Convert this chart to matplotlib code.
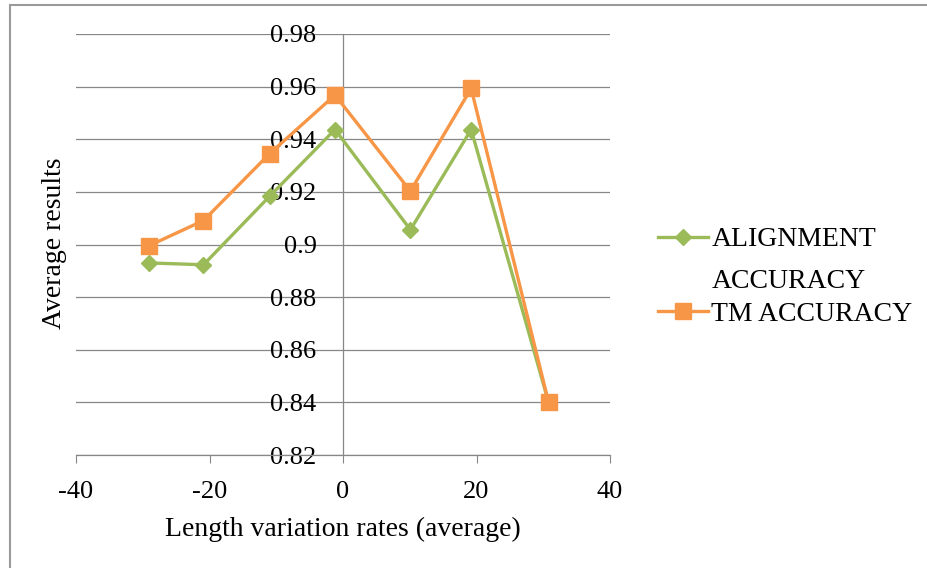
import matplotlib
matplotlib.use("Agg")
import matplotlib.pyplot as plt
from matplotlib.patches import Rectangle
from matplotlib.legend_handler import HandlerLine2D

# --- Données ---
x_valeurs = [-29.1, -20.9, -11.0, -1.2, 10.1, 19.2, 30.8]
alignment_accuracy = [0.893, 0.8923, 0.9183, 0.9437, 0.9056, 0.9437, 0.840]
tm_accuracy = [0.8995, 0.9091, 0.9345, 0.9568, 0.9203, 0.9593, 0.840]

x_ticks = [-40, -20, 0, 20, 40]
y_ticks = [0.82, 0.84, 0.86, 0.88, 0.9, 0.92, 0.94, 0.96, 0.98]
y_labels = ["0.82", "0.84", "0.86", "0.88", "0.9", "0.92", "0.94", "0.96", "0.98"]

vert = "#9BBB59"
orange = "#F79646"
gris = "#878787"


class PoigneeDecalee(HandlerLine2D):
    # remonte la poignée de légende au niveau de la première ligne du texte
    def __init__(self, dy=0, **kw):
        super().__init__(**kw)
        self.dy = dy

    def create_artists(self, legend, orig_handle, xdescent, ydescent,
                       width, height, fontsize, trans):
        return super().create_artists(legend, orig_handle, xdescent,
                                      ydescent - 2 * self.dy, width, height,
                                      fontsize, trans)


plt.rcParams["font.family"] = ["Liberation Serif", "DejaVu Serif"]
plt.rcParams["font.size"] = 19

fig = plt.figure(figsize=(9.28, 5.68), dpi=100)
ax = fig.add_axes([76 / 928, 1 - 455 / 568, 534 / 928, 421 / 568])

ligne_vert, = ax.plot(x_valeurs, alignment_accuracy, color=vert, linewidth=2.4,
                      marker="D", markersize=8, label="ALIGNMENT\nACCURACY", zorder=3)
ligne_orange, = ax.plot(x_valeurs, tm_accuracy, color=orange, linewidth=2.4,
                        marker="s", markersize=12, label="TM ACCURACY", zorder=4)

ax.set_xlim(-40, 40)
ax.set_ylim(0.82, 0.98)
ax.set_xticks(x_ticks)
ax.set_xticklabels([str(v) for v in x_ticks])
ax.set_yticks(y_ticks)
ax.set_yticklabels(y_labels)

ax.grid(axis="y", color=gris, linewidth=0.9)
ax.set_axisbelow(True)

ax.spines["top"].set_visible(False)
ax.spines["right"].set_visible(False)
ax.spines["left"].set_position(("data", 0))
ax.spines["left"].set_color(gris)
ax.spines["bottom"].set_color(gris)
ax.spines["left"].set_linewidth(0.9)
ax.spines["bottom"].set_linewidth(0.9)

ax.tick_params(axis="x", direction="out", length=6, color=gris, pad=13, labelsize=19)
ax.tick_params(axis="y", length=0, pad=19, labelsize=19)

ax.set_xlabel("Length variation rates (average)", fontsize=20, labelpad=10)
fig.text(55 / 928, 1 - 243 / 568, "Average results", rotation=90,
         ha="center", va="center", fontsize=20)

leg = ax.legend(handles=[ligne_vert, ligne_orange],
                loc="upper left", bbox_to_anchor=(1.044, 0.60), frameon=False,
                fontsize=20, handlelength=1.8, handletextpad=0.1, labelspacing=0.28,
                handler_map={ligne_vert: PoigneeDecalee(dy=17),
                             ligne_orange: HandlerLine2D()})
for t in leg.get_texts():
    t.set_linespacing(1.85)

fig.patches.append(Rectangle((10 / 928, -0.1), 1.5, 1.1 - 5 / 568,
                             transform=fig.transFigure, fill=False,
                             edgecolor="#9a9a9a", linewidth=1.5))

plt.savefig("out.png", dpi=100)
